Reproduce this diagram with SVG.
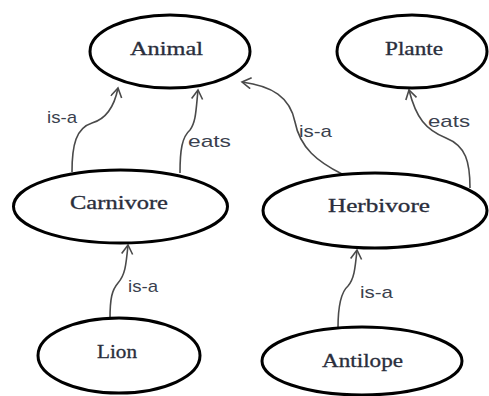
<svg xmlns="http://www.w3.org/2000/svg" width="489" height="396" viewBox="0 0 489 396">
<style>
.node ellipse{fill:#fff;stroke:#000;stroke-width:3}
.node text{font-family:"Liberation Serif","DejaVu Serif",serif;font-size:18px;fill:#2a2e3c;text-anchor:middle;stroke:#2a2e3c;stroke-width:0.3}
.edge{fill:none;stroke:#4a4a4a;stroke-width:1.6;marker-end:url(#arr)}
.lbl{font-family:"Liberation Sans","DejaVu Sans",sans-serif;font-size:17px;fill:#3a3f4e}
</style>
<defs>
<marker id="arr" markerUnits="userSpaceOnUse" markerWidth="14" markerHeight="14" refX="10" refY="6" orient="auto">
<path d="M1,0.5 L10,6 L1,11.5" fill="none" stroke="#4a4a4a" stroke-width="1.6"/>
</marker>
</defs>
<rect width="489" height="396" fill="#fff"/>
<g id="connectors">
<path class="edge" d="M72,172 C72,145 76,128 92,123 C106,119 114,108 118,88"/>
<path class="edge" d="M180,173 C180,150 182,137 190,130 C196,122 196,110 198,90"/>
<path class="edge" d="M342,174 C318,162 300,148 295,122 C290,97 272,86 242,82"/>
<path class="edge" d="M470,188 C470,162 466,146 446,138 C426,130 416,118 409,90"/>
<path class="edge" d="M110,319 C110,298 112,290 118,283 C125,275 126,266 128,245"/>
<path class="edge" d="M338,328 C338,305 341,292 348,286 C354,279 355,270 357,250"/>
<text class="lbl" x="47" y="123" textLength="30" lengthAdjust="spacingAndGlyphs">is-a</text>
<text class="lbl" x="188" y="147" textLength="43" lengthAdjust="spacingAndGlyphs">eats</text>
<text class="lbl" x="299" y="137" textLength="33" lengthAdjust="spacingAndGlyphs">is-a</text>
<text class="lbl" x="428" y="127" textLength="42" lengthAdjust="spacingAndGlyphs">eats</text>
<text class="lbl" x="128" y="292" textLength="30" lengthAdjust="spacingAndGlyphs">is-a</text>
<text class="lbl" x="360" y="298" textLength="33" lengthAdjust="spacingAndGlyphs">is-a</text>
</g>
<g id="animal" class="node"><ellipse cx="170" cy="51.5" rx="80" ry="36.5"/><text x="166.5" y="55" textLength="73" lengthAdjust="spacingAndGlyphs">Animal</text></g>
<g id="plante" class="node"><ellipse cx="412" cy="51.5" rx="75" ry="36.5"/><text x="414" y="55" textLength="58" lengthAdjust="spacingAndGlyphs">Plante</text></g>
<g id="carnivore" class="node"><ellipse cx="120.5" cy="206.5" rx="107" ry="36.5"/><text x="119" y="209" textLength="98" lengthAdjust="spacingAndGlyphs">Carnivore</text></g>
<g id="herbivore" class="node"><ellipse cx="375" cy="210.5" rx="112" ry="37.5"/><text x="379" y="212" textLength="102" lengthAdjust="spacingAndGlyphs">Herbivore</text></g>
<g id="lion" class="node"><ellipse cx="119" cy="355.5" rx="81" ry="37.5"/><text x="117" y="358" textLength="40" lengthAdjust="spacingAndGlyphs">Lion</text></g>
<g id="antilope" class="node"><ellipse cx="362" cy="361" rx="100" ry="34"/><text x="362.5" y="367" textLength="81" lengthAdjust="spacingAndGlyphs">Antilope</text></g>
</svg>
